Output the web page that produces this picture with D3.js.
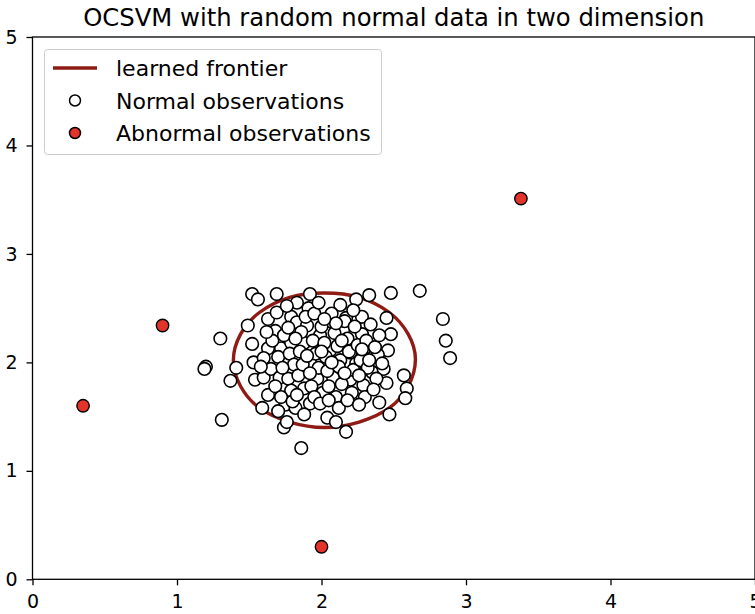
<!DOCTYPE html>
<html>
<head>
<meta charset="utf-8">
<script src="https://cdn.jsdelivr.net/npm/d3@7"></script>
<style>
  body { margin: 0; background: #fff; }
  svg { display: block; font-family: "DejaVu Sans", sans-serif; }
</style>
</head>
<body>
<svg id="chart" width="755" height="614"></svg>
<script>
// values
const normalObs = [
  [1.52,2.63],[1.56,2.58],[1.69,2.63],[1.49,2.34],[1.30,2.22],[1.63,2.40],[1.68,2.29],[1.52,2.17],
  [1.72,2.13],[1.63,2.13],[1.53,2.00],[1.60,2.04],[1.20,1.96],[1.41,1.95],[1.92,2.63],[1.83,2.55],
  [1.91,2.50],[2.33,2.62],[2.24,2.58],[2.13,2.53],[2.06,2.38],[2.17,2.41],[2.28,2.42],[1.79,2.42],
  [1.83,2.37],[1.90,2.34],[2.15,2.30],[2.28,2.26],[1.99,2.25],[1.88,2.18],[2.06,2.11],[2.20,2.09],
  [2.30,2.08],[2.36,2.05],[1.79,2.18],[1.92,2.00],[2.13,2.02],[2.24,1.99],[2.48,2.64],[2.68,2.66],
  [2.84,2.40],[2.86,2.20],[2.89,2.04],[2.45,2.41],[2.48,2.26],[2.46,2.11],[2.39,2.07],[1.19,1.94],
  [1.37,1.83],[1.31,1.47],[1.59,1.58],[1.63,1.70],[1.54,1.84],[1.60,1.86],[1.65,1.94],[1.71,1.86],
  [1.75,1.61],[1.74,1.40],[1.76,1.45],[1.86,1.21],[2.17,1.36],[2.04,1.49],[1.82,1.58],[1.92,1.62],
  [2.01,1.72],[2.10,1.68],[2.20,1.84],[2.29,1.79],[2.30,1.68],[2.08,1.86],[1.97,1.85],[1.88,1.76],
  [1.77,1.85],[1.79,1.74],[2.35,1.91],[2.22,1.93],[2.57,1.88],[2.59,1.76],[2.58,1.67],[2.47,1.52],
  [2.45,1.81],[2.43,1.94],[2.38,1.85],[1.66,2.20],[1.70,2.05],[1.74,2.25],[1.78,2.08],[1.81,1.98],
  [1.85,2.10],[1.86,2.28],[1.89,2.42],[1.94,2.20],[1.96,2.08],[1.98,1.95],[2.00,2.33],[2.02,2.18],
  [2.03,2.05],[2.04,1.92],[2.07,2.45],[2.09,2.27],[2.11,2.15],[2.12,1.96],[2.14,1.80],[2.16,2.38],
  [2.18,2.22],[2.19,2.10],[2.21,1.72],[2.23,2.33],[2.25,2.16],[2.27,2.02],[2.31,2.20],[2.32,1.95],
  [2.34,2.35],[2.37,2.14],[2.40,2.25],[2.42,1.99],[1.68,1.78],[1.72,1.68],[1.80,1.64],[1.84,1.88],
  [1.87,1.98],[1.93,1.78],[1.95,1.68],[1.99,1.62],[2.05,1.78],[2.12,1.58],[2.18,1.65],[2.26,1.88],
  [2.36,1.75],[2.40,1.63],[1.58,1.96],[1.62,2.28],[1.69,2.46],[1.73,1.95],[1.77,2.32],[1.82,2.22],
  [1.90,2.06],[1.95,2.45],[2.00,2.10],[2.07,2.00],[2.10,2.36],[2.14,2.20],[2.22,2.48],[2.28,2.12],
  [2.33,2.02],[1.76,2.52],[1.98,2.55],[2.05,1.65],[1.92,1.90],[2.16,1.90],[2.26,1.61],[1.83,1.70],
  [1.70,1.55],[2.02,2.40],[1.88,1.52],[2.10,1.45]
];
const abnormalObs = [[0.35,1.60],[0.90,2.34],[2.00,0.30],[3.38,3.51]];
const frontier = [
  [2.65,2.03],[2.60,2.26],[2.47,2.46],[2.26,2.60],[2.02,2.64],[1.78,2.60],[1.57,2.46],[1.44,2.26],
  [1.39,2.02],[1.44,1.78],[1.57,1.58],[1.78,1.45],[2.02,1.40],[2.26,1.45],[2.47,1.58],[2.60,1.78]
];
const xTicks = [0, 1, 2, 3, 4, 5];
const yTicks = [0, 1, 2, 3, 4, 5];
const legendItems = ["learned frontier", "Normal observations", "Abnormal observations"];

const svg = d3.select("#chart");
const margin = { top: 37, left: 32.5, bottom: 34.7 };
const plotW = 722.5;
const plotH = 614 - margin.top - margin.bottom;

const x = d3.scaleLinear().domain([0, 5]).range([margin.left, margin.left + plotW]);
const y = d3.scaleLinear().domain([0, 5]).range([margin.top + plotH, margin.top]);

const frontierColor = "#8f1b14";
const abnormalColor = "#e3342a";

// frontier contour
const line = d3.line()
  .x(d => x(d[0]))
  .y(d => y(d[1]))
  .curve(d3.curveCardinalClosed.tension(0));

svg.append("path")
  .datum(frontier)
  .attr("d", line)
  .attr("fill", "none")
  .attr("stroke", frontierColor)
  .attr("stroke-width", 3.4);

svg.append("g").selectAll("circle")
  .data(normalObs)
  .enter()
  .append("circle")
  .attr("cx", d => x(d[0]))
  .attr("cy", d => y(d[1]))
  .attr("r", 6.3)
  .attr("fill", "#fff")
  .attr("stroke", "#000")
  .attr("stroke-width", 1.6);

svg.append("g").selectAll("circle")
  .data(abnormalObs)
  .enter()
  .append("circle")
  .attr("cx", d => x(d[0]))
  .attr("cy", d => y(d[1]))
  .attr("r", 6.2)
  .attr("fill", abnormalColor)
  .attr("stroke", "#000")
  .attr("stroke-width", 1.4);

// axes
const xAxis = svg.append("g")
  .attr("transform", `translate(0,${margin.top + plotH})`)
  .call(d3.axisBottom(x).tickValues(xTicks).tickFormat(d3.format("d")).tickSize(6).tickPadding(9));
const yAxis = svg.append("g")
  .attr("transform", `translate(${margin.left},0)`)
  .call(d3.axisLeft(y).tickValues(yTicks).tickFormat(d3.format("d")).tickSize(6).tickPadding(9));

[xAxis, yAxis].forEach(a => {
  a.select(".domain").attr("d", null);
  a.selectAll("text").attr("font-size", 19).attr("font-family", "DejaVu Sans").attr("fill", "#000");
  a.selectAll("line").attr("stroke-width", 1.3);
});

// spines
svg.append("rect")
  .attr("x", margin.left)
  .attr("y", margin.top)
  .attr("width", plotW)
  .attr("height", plotH)
  .attr("fill", "none")
  .attr("stroke", "#000")
  .attr("stroke-width", 1.3);

// title
svg.append("text")
  .attr("x", margin.left + plotW / 2)
  .attr("y", 26)
  .attr("text-anchor", "middle")
  .attr("font-size", 24.3)
  .text("OCSVM with random normal data in two dimension");

// legend
const legend = svg.append("g");
legend.append("rect")
  .attr("x", 44.5).attr("y", 49.5)
  .attr("width", 337).attr("height", 105)
  .attr("rx", 3)
  .attr("fill", "#fff").attr("fill-opacity", 0.8)
  .attr("stroke", "#ccc").attr("stroke-width", 1);

const rows = legend.selectAll("g.row")
  .data(legendItems)
  .enter()
  .append("g")
  .attr("class", "row")
  .attr("transform", (d, i) => `translate(0,${68 + i * 32.5})`);

rows.filter((d, i) => i === 0).append("line")
  .attr("x1", 53).attr("x2", 97)
  .attr("stroke", frontierColor).attr("stroke-width", 3.4);
rows.filter((d, i) => i > 0).append("circle")
  .attr("cx", 75).attr("r", 5.5)
  .attr("fill", (d, i) => i === 0 ? "#fff" : abnormalColor)
  .attr("stroke", "#000").attr("stroke-width", 1.5);
rows.append("text")
  .attr("x", 116).attr("y", 8)
  .attr("font-size", 22)
  .text(d => d);
</script>
</body>
</html>
